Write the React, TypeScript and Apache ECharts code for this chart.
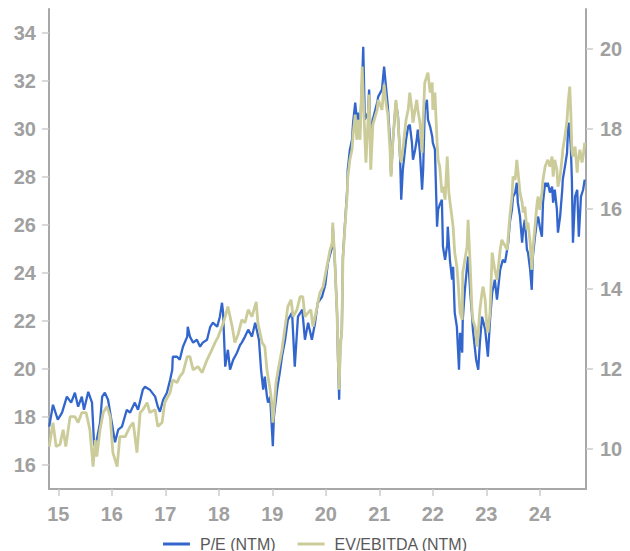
import React, { useEffect, useRef } from "react";
import * as echarts from "echarts";

const yearTicks = [2015, 2016, 2017, 2018, 2019, 2020, 2021, 2022, 2023, 2024];
const leftTicks = [16, 18, 20, 22, 24, 26, 28, 30, 32, 34];
const rightTicks = [10, 12, 14, 16, 18, 20];
const seriesNames = ["P/E (NTM)", "EV/EBITDA (NTM)"];

const peData: [number, number][] = [
  [2014.83, 17.6], [2014.9, 18.51], [2014.99, 17.89], [2015.07, 18.18], [2015.16, 18.85], [2015.24, 18.6],
  [2015.31, 19.01], [2015.37, 18.43], [2015.44, 18.85], [2015.48, 18.3], [2015.56, 19.05], [2015.63, 18.6],
  [2015.67, 16.8], [2015.72, 17.05], [2015.78, 17.76], [2015.82, 18.85], [2015.87, 19.01], [2015.93, 18.72],
  [2016.0, 17.76], [2016.06, 16.95], [2016.12, 17.47], [2016.19, 17.6], [2016.28, 18.3], [2016.34, 18.18],
  [2016.43, 18.6], [2016.49, 18.3], [2016.58, 19.14], [2016.62, 19.26], [2016.71, 19.14], [2016.81, 18.85],
  [2016.86, 18.43], [2016.9, 18.22], [2016.96, 18.72], [2017.03, 19.01], [2017.09, 19.55], [2017.13, 19.97],
  [2017.14, 20.51], [2017.22, 20.51], [2017.27, 20.39], [2017.33, 20.93], [2017.41, 21.35], [2017.42, 21.76],
  [2017.46, 21.35], [2017.52, 21.1], [2017.59, 21.22], [2017.65, 20.93], [2017.7, 21.1], [2017.78, 21.22],
  [2017.84, 21.76], [2017.89, 21.93], [2017.97, 21.76], [2018.02, 22.18], [2018.06, 22.76], [2018.08, 22.35],
  [2018.12, 20.1], [2018.17, 20.8], [2018.21, 19.97], [2018.27, 20.39], [2018.34, 20.68], [2018.4, 21.01],
  [2018.43, 21.1], [2018.49, 21.35], [2018.55, 21.64], [2018.62, 21.35], [2018.68, 21.93], [2018.71, 21.64],
  [2018.75, 21.22], [2018.79, 19.97], [2018.83, 19.14], [2018.86, 19.68], [2018.9, 18.85], [2018.92, 18.6],
  [2018.96, 18.85], [2018.99, 17.6], [2019.01, 16.78], [2019.03, 18.01], [2019.09, 19.14], [2019.14, 19.85],
  [2019.18, 20.51], [2019.24, 21.22], [2019.29, 22.05], [2019.37, 22.35], [2019.42, 20.1], [2019.48, 22.18],
  [2019.56, 22.47], [2019.61, 21.22], [2019.67, 21.93], [2019.74, 21.22], [2019.8, 21.93], [2019.85, 22.76],
  [2019.93, 23.01], [2019.99, 23.51], [2020.04, 24.43], [2020.12, 25.1], [2020.13, 25.93], [2020.17, 24.43],
  [2020.21, 22.35], [2020.23, 20.26], [2020.25, 18.72], [2020.27, 20.93], [2020.3, 21.64], [2020.32, 24.68],
  [2020.36, 26.1], [2020.4, 27.47], [2020.41, 28.3], [2020.45, 29.14], [2020.49, 29.55], [2020.51, 30.26],
  [2020.55, 31.1], [2020.58, 30.39], [2020.6, 30.68], [2020.64, 29.97], [2020.68, 32.05], [2020.7, 33.43],
  [2020.73, 30.39], [2020.79, 30.68], [2020.81, 31.64], [2020.84, 29.55], [2020.88, 30.39], [2020.96, 31.1],
  [2020.98, 31.35], [2021.05, 31.64], [2021.09, 32.6], [2021.13, 31.64], [2021.16, 30.93], [2021.2, 29.55],
  [2021.22, 28.1], [2021.26, 29.68], [2021.31, 31.1], [2021.35, 30.51], [2021.39, 28.72], [2021.41, 27.05],
  [2021.44, 28.3], [2021.5, 29.55], [2021.54, 30.1], [2021.57, 30.18], [2021.61, 29.43], [2021.63, 28.72],
  [2021.67, 29.14], [2021.7, 29.55], [2021.72, 29.97], [2021.76, 29.01], [2021.8, 27.47], [2021.82, 28.3],
  [2021.85, 30.8], [2021.89, 31.22], [2021.91, 30.39], [2021.95, 30.1], [2021.99, 29.68], [2022.0, 29.43],
  [2022.04, 29.14], [2022.08, 25.93], [2022.1, 26.64], [2022.13, 26.85], [2022.17, 27.05], [2022.19, 25.1],
  [2022.23, 24.55], [2022.27, 25.18], [2022.28, 25.93], [2022.32, 24.55], [2022.36, 23.72], [2022.38, 24.26],
  [2022.41, 22.35], [2022.45, 21.76], [2022.49, 19.97], [2022.51, 21.51], [2022.55, 20.68], [2022.56, 22.05],
  [2022.6, 23.3], [2022.64, 24.26], [2022.66, 24.68], [2022.7, 23.18], [2022.73, 22.35], [2022.75, 21.64],
  [2022.81, 20.39], [2022.85, 19.97], [2022.88, 21.1], [2022.92, 22.18], [2022.98, 21.64], [2023.03, 20.51],
  [2023.07, 22.05], [2023.11, 23.18], [2023.16, 23.72], [2023.2, 22.89], [2023.26, 24.14], [2023.31, 24.55],
  [2023.35, 24.43], [2023.41, 25.26], [2023.44, 26.1], [2023.48, 26.64], [2023.5, 27.18], [2023.54, 27.35],
  [2023.57, 27.76], [2023.59, 26.93], [2023.63, 26.35], [2023.67, 25.26], [2023.69, 25.8], [2023.72, 26.22],
  [2023.76, 24.97], [2023.78, 24.85], [2023.82, 24.14], [2023.85, 23.3], [2023.87, 24.68], [2023.91, 25.51],
  [2023.95, 26.22], [2023.97, 26.35], [2024.0, 25.93], [2024.04, 25.51], [2024.06, 26.93], [2024.1, 27.76],
  [2024.13, 27.6], [2024.15, 27.76], [2024.19, 27.35], [2024.23, 27.6], [2024.25, 26.93], [2024.28, 27.47],
  [2024.32, 26.64], [2024.34, 25.68], [2024.38, 26.35], [2024.42, 27.47], [2024.43, 27.89], [2024.47, 28.43],
  [2024.51, 29.01], [2024.53, 30.1], [2024.55, 30.26], [2024.58, 29.26], [2024.6, 27.89], [2024.62, 25.26],
  [2024.66, 27.18], [2024.7, 27.47], [2024.73, 25.51], [2024.77, 27.18], [2024.81, 27.47], [2024.84, 27.89],
];

const evData: [number, number][] = [
  [2014.83, 10.06], [2014.9, 10.66], [2014.96, 10.06], [2015.03, 10.11], [2015.09, 10.48], [2015.14, 10.06],
  [2015.22, 10.81], [2015.31, 10.81], [2015.37, 10.66], [2015.44, 10.91], [2015.52, 10.91], [2015.59, 10.48],
  [2015.65, 9.56], [2015.69, 10.23], [2015.72, 9.81], [2015.78, 10.48], [2015.84, 10.91], [2015.91, 11.06],
  [2015.97, 10.81], [2016.02, 9.91], [2016.1, 9.56], [2016.15, 10.31], [2016.25, 10.31], [2016.34, 10.56],
  [2016.4, 10.66], [2016.47, 9.91], [2016.53, 10.91], [2016.58, 10.98], [2016.66, 11.16], [2016.71, 10.91],
  [2016.81, 10.98], [2016.86, 10.56], [2016.94, 10.66], [2016.99, 11.16], [2017.09, 11.41], [2017.14, 11.73],
  [2017.22, 11.66], [2017.27, 11.81], [2017.33, 11.91], [2017.41, 12.31], [2017.46, 12.31], [2017.52, 11.98],
  [2017.61, 12.06], [2017.69, 11.91], [2017.78, 12.23], [2017.87, 12.48], [2017.93, 12.66], [2017.99, 12.81],
  [2018.06, 13.06], [2018.12, 13.31], [2018.17, 13.56], [2018.25, 13.06], [2018.3, 12.66], [2018.36, 12.86],
  [2018.43, 13.23], [2018.49, 13.16], [2018.55, 13.48], [2018.62, 13.31], [2018.7, 13.68], [2018.73, 13.16],
  [2018.81, 12.66], [2018.86, 12.56], [2018.9, 11.98], [2018.92, 11.81], [2018.96, 11.48], [2018.99, 11.16],
  [2019.01, 10.66], [2019.03, 10.98], [2019.07, 11.66], [2019.11, 11.98], [2019.18, 12.48], [2019.24, 13.06],
  [2019.29, 13.56], [2019.35, 13.73], [2019.39, 13.31], [2019.46, 13.48], [2019.52, 13.81], [2019.57, 13.81],
  [2019.61, 13.31], [2019.67, 13.41], [2019.72, 13.48], [2019.76, 13.06], [2019.84, 13.56], [2019.89, 13.91],
  [2019.95, 14.06], [2020.02, 14.56], [2020.08, 14.98], [2020.12, 15.16], [2020.13, 15.66], [2020.17, 14.66],
  [2020.21, 13.41], [2020.23, 12.36], [2020.25, 11.48], [2020.27, 12.48], [2020.3, 12.98], [2020.32, 14.73],
  [2020.36, 15.61], [2020.4, 16.36], [2020.41, 16.78], [2020.45, 17.23], [2020.49, 17.48], [2020.51, 17.86],
  [2020.55, 18.36], [2020.58, 17.73], [2020.6, 18.23], [2020.64, 17.73], [2020.68, 19.56], [2020.71, 18.48],
  [2020.75, 17.16], [2020.79, 18.23], [2020.81, 18.86], [2020.84, 16.98], [2020.88, 18.11], [2020.96, 18.48],
  [2020.98, 18.73], [2021.05, 18.48], [2021.09, 19.11], [2021.13, 18.61], [2021.16, 18.36], [2021.2, 17.48],
  [2021.22, 16.81], [2021.26, 17.81], [2021.31, 18.73], [2021.35, 18.23], [2021.39, 17.31], [2021.41, 17.16],
  [2021.44, 17.48], [2021.5, 18.23], [2021.54, 18.48], [2021.57, 18.91], [2021.61, 18.48], [2021.63, 18.16],
  [2021.7, 18.73], [2021.72, 18.48], [2021.76, 18.16], [2021.8, 17.41], [2021.82, 18.23], [2021.85, 19.16],
  [2021.91, 19.41], [2021.95, 18.91], [2021.99, 19.16], [2022.0, 18.48], [2022.04, 18.91], [2022.08, 17.66],
  [2022.1, 17.23], [2022.13, 17.06], [2022.17, 16.41], [2022.19, 16.56], [2022.23, 16.23], [2022.27, 17.31],
  [2022.3, 16.41], [2022.34, 15.98], [2022.38, 15.56], [2022.41, 14.91], [2022.45, 14.56], [2022.47, 14.23],
  [2022.51, 13.41], [2022.55, 13.23], [2022.56, 14.41], [2022.6, 14.73], [2022.64, 15.06], [2022.66, 15.73],
  [2022.7, 14.56], [2022.73, 13.56], [2022.75, 13.23], [2022.79, 13.06], [2022.83, 12.56], [2022.85, 12.91],
  [2022.88, 13.48], [2022.92, 13.91], [2022.94, 14.06], [2022.98, 13.73], [2023.01, 13.06], [2023.03, 12.91],
  [2023.07, 13.41], [2023.11, 14.91], [2023.13, 14.73], [2023.16, 14.48], [2023.2, 14.23], [2023.26, 14.98],
  [2023.29, 15.23], [2023.39, 14.98], [2023.41, 15.31], [2023.44, 15.81], [2023.48, 16.31], [2023.5, 16.81],
  [2023.54, 16.73], [2023.57, 17.23], [2023.59, 16.98], [2023.63, 16.41], [2023.67, 16.16], [2023.69, 15.91],
  [2023.72, 16.06], [2023.76, 15.48], [2023.78, 15.66], [2023.82, 15.16], [2023.85, 14.48], [2023.87, 14.98],
  [2023.91, 15.56], [2023.95, 16.16], [2023.97, 16.31], [2024.0, 15.98], [2024.04, 16.41], [2024.06, 16.73],
  [2024.1, 17.06], [2024.13, 17.16], [2024.15, 17.23], [2024.19, 17.06], [2024.23, 17.31], [2024.25, 16.81],
  [2024.28, 17.23], [2024.32, 16.98], [2024.34, 16.56], [2024.38, 16.81], [2024.42, 17.31], [2024.43, 17.48],
  [2024.47, 17.81], [2024.51, 18.23], [2024.53, 18.66], [2024.56, 19.06], [2024.58, 18.41], [2024.6, 17.48],
  [2024.62, 17.31], [2024.66, 17.56], [2024.7, 16.91], [2024.71, 17.16], [2024.75, 17.48], [2024.79, 17.16],
  [2024.81, 17.31], [2024.84, 17.66],
];

const AXIS_COLOR = "#a8a8a8";
const LABEL_COLOR = "#a0a0a0";
const TICK_COLOR = "#cccccc";
const FONT = "'Liberation Sans', Arial, sans-serif";

export default function App() {
  const ref = useRef<HTMLDivElement>(null);

  useEffect(() => {
    document.body.style.margin = "0";
    if (!ref.current) return;
    const chart = echarts.init(ref.current, undefined, { renderer: "svg" });
    const labelStyle = {
      color: LABEL_COLOR,
      fontSize: 20,
      fontWeight: "bold" as const,
      fontFamily: FONT,
    };
    chart.setOption({
      animation: false,
      backgroundColor: "#ffffff",
      grid: { left: 49, right: 44, top: 9, bottom: 62 },
      legend: {
        data: seriesNames,
        left: 158,
        top: 531,
        icon: "rect",
        itemWidth: 27,
        itemHeight: 3,
        itemGap: 22,
        textStyle: { color: "#595959", fontSize: 16, fontFamily: FONT, padding: [0, 0, 0, 5] },
      },
      xAxis: {
        type: "value",
        min: 2014.826,
        max: 2024.864,
        splitLine: { show: false },
        axisLine: { show: true, lineStyle: { color: AXIS_COLOR, width: 2 } },
        axisTick: {
          show: true,
          customValues: yearTicks,
          length: 7,
          lineStyle: { color: TICK_COLOR, width: 1.5 },
        },
        axisLabel: {
          ...labelStyle,
          customValues: yearTicks,
          margin: 15,
          formatter: (v: number) => String(Math.round(v) - 2000),
        },
      },
      yAxis: [
        {
          type: "value",
          position: "left",
          min: 15,
          max: 35,
          splitLine: { show: false },
          axisLine: { show: true, lineStyle: { color: AXIS_COLOR, width: 2 } },
          axisTick: {
            show: true,
            customValues: leftTicks,
            length: 7,
            lineStyle: { color: TICK_COLOR, width: 1.5 },
          },
          axisLabel: { ...labelStyle, customValues: leftTicks, margin: 13 },
        },
        {
          type: "value",
          position: "right",
          min: 9,
          max: 21,
          splitLine: { show: false },
          axisLine: { show: true, lineStyle: { color: AXIS_COLOR, width: 2 } },
          axisTick: {
            show: true,
            customValues: rightTicks,
            length: 7,
            lineStyle: { color: TICK_COLOR, width: 1.5 },
          },
          axisLabel: { ...labelStyle, customValues: rightTicks, margin: 14 },
        },
      ],
      series: [
        {
          name: seriesNames[0],
          type: "line",
          yAxisIndex: 0,
          data: peData,
          symbol: "none",
          showSymbol: false,
          color: "#3366cc",
          lineStyle: { color: "#3366cc", width: 2.3 },
        },
        {
          name: seriesNames[1],
          type: "line",
          yAxisIndex: 1,
          data: evData,
          symbol: "none",
          showSymbol: false,
          color: "#cccc9a",
          lineStyle: { color: "#cccc9a", width: 2.8 },
        },
      ],
    });
    return () => chart.dispose();
  }, []);

  return <div ref={ref} style={{ width: 630, height: 551 }} />;
}
